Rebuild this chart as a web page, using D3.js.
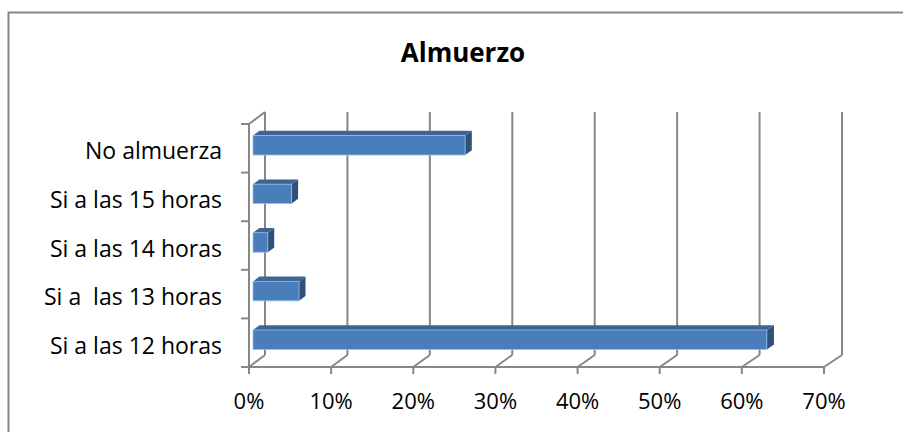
<!DOCTYPE html>
<html>
<head>
<meta charset="utf-8">
<script src="https://cdn.jsdelivr.net/npm/d3@7"></script>
<style>
  html, body { margin: 0; padding: 0; background: #fff; }
  svg { display: block; }
  text { font-family: "Open Sans", "Noto Sans", sans-serif; fill: #000; }
</style>
</head>
<body>
<svg id="chart" width="903" height="432"></svg>
<script>
// Lunch time survey (share of respondents)
const chartTitle = "Almuerzo";
const categories = ["No almuerza", "Si a las 15 horas", "Si a las 14 horas", "Si a  las 13 horas", "Si a las 12 horas"];
const values = [25.8, 4.7, 1.8, 5.6, 62.5];
const tickValues = [0, 10, 20, 30, 40, 50, 60, 70];

const svg = d3.select("#chart");

// chart frame
svg.append("rect")
  .attr("x", 8.5).attr("y", 12.5)
  .attr("width", 1000).attr("height", 1000)
  .attr("fill", "#fff").attr("stroke", "#888").attr("stroke-width", 2);

// title
svg.append("text")
  .attr("x", 463).attr("y", 62)
  .attr("text-anchor", "middle")
  .style("font-size", "26px").style("font-weight", "bold")
  .text(chartTitle);

// oblique 3D box: front and back planes of the plot
const xFront = d3.scaleLinear().domain([0, 70]).range([249, 824]);
const xBack = d3.scaleLinear().domain([0, 70]).range([265, 842]);
const yFront = d3.scaleBand().domain(categories).range([124, 367])
  .paddingInner(0.6).paddingOuter(0.3);
const depthRise = 12;            // vertical shift from front to back
const px = (v, z) => xFront(v) * (1 - z) + xBack(v) * z;
const py = (y, z) => y - depthRise * z;
const yTop = 124, yBottom = 367;

const gridColor = "#878787";
const grid = svg.append("g").attr("stroke", gridColor).attr("stroke-width", 2).attr("fill", "none");

// back wall vertical gridlines
grid.selectAll("line.back").data(tickValues).join("line")
  .attr("class", "back")
  .attr("x1", d => px(d, 1)).attr("x2", d => px(d, 1))
  .attr("y1", py(yTop, 1)).attr("y2", py(yBottom, 1));

// floor gridlines running from back to front
grid.selectAll("line.floor").data(tickValues).join("line")
  .attr("class", "floor")
  .attr("x1", d => px(d, 1)).attr("x2", d => px(d, 0))
  .attr("y1", py(yBottom, 1)).attr("y2", yBottom);

// side wall top edge
grid.append("line")
  .attr("x1", px(0, 0)).attr("y1", yTop)
  .attr("x2", px(0, 1)).attr("y2", py(yTop, 1));

// front value axis and category axis
grid.append("line")
  .attr("x1", px(0, 0)).attr("x2", px(70, 0))
  .attr("y1", yBottom).attr("y2", yBottom);
grid.append("line")
  .attr("x1", px(0, 0)).attr("x2", px(0, 0))
  .attr("y1", yTop).attr("y2", yBottom);

// value axis ticks
grid.selectAll("line.xt").data(tickValues).join("line")
  .attr("class", "xt")
  .attr("x1", d => px(d, 0)).attr("x2", d => px(d, 0))
  .attr("y1", yBottom).attr("y2", yBottom + 7);

// category axis ticks (band boundaries)
const catTicks = d3.range(categories.length + 1).map(i => yTop + i * yFront.step());
grid.selectAll("line.yt").data(catTicks).join("line")
  .attr("class", "yt")
  .attr("x1", px(0, 0) - 8).attr("x2", px(0, 0))
  .attr("y1", d => d).attr("y2", d => d);

// bars as 3D boxes
const z0 = 0.25, z1 = 0.65;
const bars = svg.append("g");
const rows = categories.map((c, i) => ({ c, v: values[i] }));
rows.forEach(d => {
  const t = yFront(d.c), b = t + yFront.bandwidth();
  const g = bars.append("g");
  // top face
  g.append("polygon")
    .attr("points", [
      [px(0, z0), py(t, z0)], [px(d.v, z0), py(t, z0)],
      [px(d.v, z1), py(t, z1)], [px(0, z1), py(t, z1)]
    ].map(p => p.join(",")).join(" "))
    .attr("fill", "#3c6494");
  // side face
  g.append("polygon")
    .attr("points", [
      [px(d.v, z0), py(t, z0)], [px(d.v, z1), py(t, z1)],
      [px(d.v, z1), py(b, z1)], [px(d.v, z0), py(b, z0)]
    ].map(p => p.join(",")).join(" "))
    .attr("fill", "#2f5079");
  // front face
  g.append("rect")
    .attr("x", px(0, z0)).attr("y", py(t, z0))
    .attr("width", px(d.v, z0) - px(0, z0))
    .attr("height", b - t)
    .attr("fill", "#4a7ebb")
    .attr("stroke", "#9cbce2").attr("stroke-width", 0.8);
});

// category labels
svg.append("g").selectAll("text").data(categories).join("text")
  .attr("x", 222)
  .attr("y", d => yFront(d) + yFront.bandwidth() / 2 + 11)
  .attr("text-anchor", "end")
  .style("font-size", "23px")
  .style("white-space", "pre")
  .attr("xml:space", "preserve")
  .text(d => d);

// value labels
svg.append("g").selectAll("text").data(tickValues).join("text")
  .attr("x", d => px(d, 0))
  .attr("y", 409)
  .attr("text-anchor", "middle")
  .style("font-size", "22px")
  .text(d => d + "%");
</script>
</body>
</html>
